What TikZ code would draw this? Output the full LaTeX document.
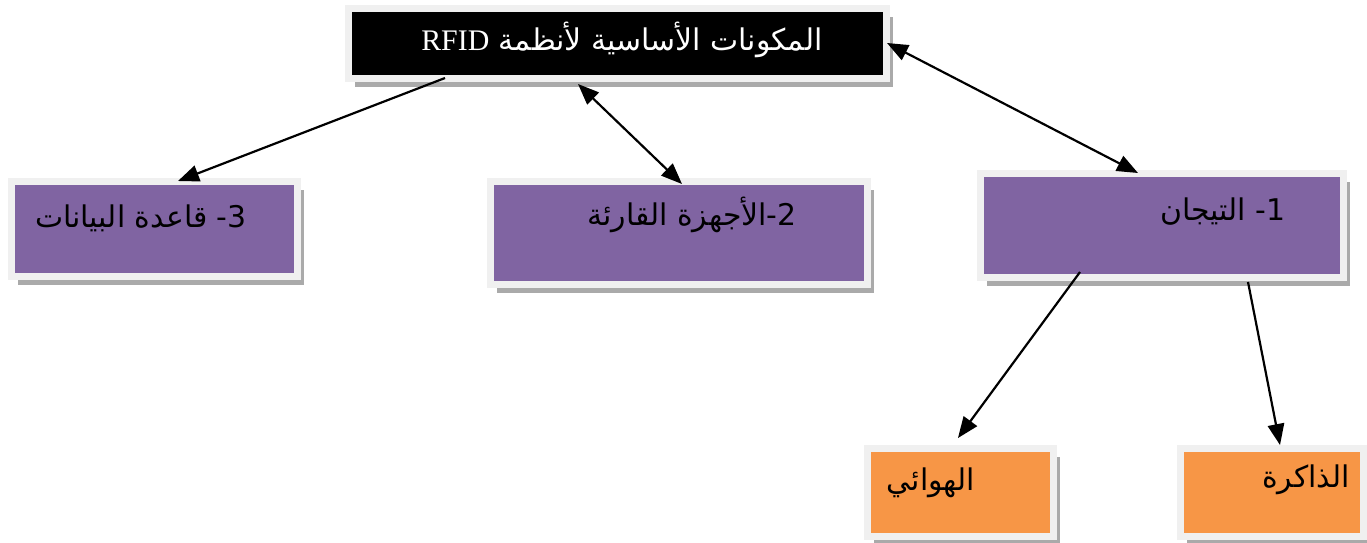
\documentclass[tikz,border=0pt]{standalone}
\usepackage{fontspec}
\usepackage{xcolor}
\usetikzlibrary{
  arrows.meta,
  positioning,
  calc,
  shadows,
}
\TeXXeTstate=1
\newfontfamily\arabicfont[Script=Arabic]{DejaVu Sans}
\newfontfamily\latinserif{Liberation Serif}
\definecolor{framegray}{RGB}{240,240,240}
\definecolor{shadowgray}{RGB}{170,170,170}
\definecolor{partpurple}{RGB}{128,100,162}
\definecolor{subOrange}{RGB}{247,150,70}
\tikzset{
  partbox/.style={
    rectangle, draw=framegray, line width=0.14cm, inner sep=0pt,
    drop shadow={shadow xshift=0.13cm, shadow yshift=-0.16cm,
      fill=shadowgray, opacity=1}
  },
  titlebox/.style={partbox, fill=black},
  Pbox/.style={partbox, fill=partpurple},
  Obox/.style={partbox, fill=subOrange},
  lbl/.style={font=\arabicfont\fontsize{17}{20}\selectfont, inner sep=0pt},
  arr/.style={-{Triangle[length=0.42cm,width=0.33cm]}, line width=1.25pt},
  dualarr/.style={{Triangle[length=0.42cm,width=0.33cm]}-{Triangle[length=0.42cm,width=0.33cm]}, line width=1.25pt},
}
\begin{document}
\begin{tikzpicture}

  \useasboundingbox (0,0) rectangle (27.34,-10.84);

  % ── Top: system title ──
  \node[titlebox, minimum width=10.76cm, minimum height=1.40cm] (top) at (12.35,-0.87) {};
  \node[lbl, text=white] (ttop) at (12.44,-0.80)
    {\beginR المكونات الأساسية لأنظمة \beginL{\latinserif RFID}\endL\endR};

  % ── Row 2: the three parts ──
  \node[Pbox, minimum width=5.72cm, minimum height=1.90cm] (b3) at (3.09,-4.58) {};
  \node[Pbox, minimum width=7.54cm, minimum height=2.06cm] (b2) at (13.58,-4.66) {};
  \node[Pbox, minimum width=7.26cm, minimum height=2.08cm] (b1) at (23.24,-4.51) {};

  \node[lbl] (t3) at (2.82,-4.36) {\beginR 3- قاعدة البيانات\endR};
  \node[lbl] (t2) at (13.84,-4.30) {\beginR 2-الأجهزة القارئة\endR};
  \node[lbl] (t1) at (24.46,-4.24) {\beginR 1- التيجان\endR};

  % ── Row 3: parts of the tag ──
  \node[Obox, minimum width=3.72cm, minimum height=1.76cm] (ant) at (19.21,-9.85) {};
  \node[Obox, minimum width=3.66cm, minimum height=1.76cm] (mem) at (25.44,-9.85) {};

  \node[lbl] (tant) at (18.62,-9.66) {\beginR الهوائي\endR};
  \node[lbl] (tmem) at (26.12,-9.60) {\beginR الذاكرة\endR};

  % ── Connectors ──
  \draw[arr] ([xshift=-3.45cm, yshift=0.08cm]top.south) -- ([xshift=0.47cm, yshift=-0.06cm]b3.north);
  \draw[dualarr] ([xshift=-0.79cm, yshift=-0.04cm]top.south) -- ([xshift=0.06cm, yshift=-0.12cm]b2.north);
  \draw[dualarr] ([xshift=-0.06cm, yshift=0.01cm]top.east) -- ([xshift=-0.48cm, yshift=-0.06cm]b1.north);
  \draw[arr] ([xshift=-1.64cm, yshift=0.18cm]b1.south) -- ([xshift=-0.05cm, yshift=0.14cm]ant.north);
  \draw[arr] ([xshift=1.72cm, yshift=-0.02cm]b1.south) -- ([xshift=0.16cm]mem.north);

\end{tikzpicture}
\end{document}
